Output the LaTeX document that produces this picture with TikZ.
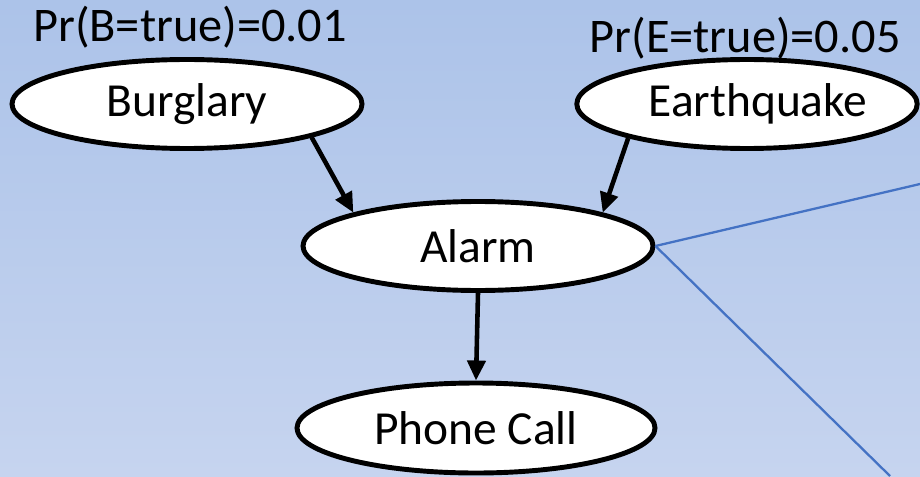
\documentclass[tikz,border=0pt]{standalone}
\usepackage{fontspec}
\setmainfont{Carlito}
\usepackage{tikz}
\usetikzlibrary{positioning,arrows.meta,shapes.geometric}
\definecolor{bgtop}{RGB}{172,195,233}
\definecolor{bgbottom}{RGB}{198,212,239}
\definecolor{linkblue}{RGB}{68,114,196}

\begin{document}
\begin{tikzpicture}[
    bnode/.style={ellipse, draw=black, fill=white, line width=2.8pt, minimum width=7cm, minimum height=1.78cm, inner sep=0pt, font=\fontsize{27}{31}\selectfont},
    arrow/.style={-{Triangle[length=0.4cm, width=0.36cm]}, line width=2.6pt},
    link/.style={draw=linkblue, line width=1.3pt},
    prob/.style={inner sep=0pt, anchor=base, font=\fontsize{27.5}{31}\selectfont}
]
% Background
\shade[top color=bgtop, bottom color=bgbottom] (0,0) rectangle (18.4,9.52);
\useasboundingbox (0,0) rectangle (18.4,9.52);

% Network
\node[bnode] (burglary) at (3.74,7.44) {Burglary\hspace{0.88cm}};
\node[bnode, minimum width=6.8cm] (earthquake) at (14.94,7.44) {\hspace{0.44cm}Earthquake};
\node[bnode] (alarm) at (9.56,4.6) {Alarm};
\node[bnode, minimum width=7.16cm, minimum height=1.8cm] (phone) at (9.52,0.96) {Phone Call};

% Priors
\node[prob, above=0.32cm of burglary.north, anchor=base, xshift=0.06cm] (pb) {Pr(B=true)=0.01};
\node[prob, above=0.1cm of earthquake.north, anchor=base, xshift=-0.04cm] (pe) {Pr(E=true)=0.05};

% Arrows
\draw[arrow] (burglary.-15) -- (alarm.165);
\draw[arrow] (earthquake.196) -- (alarm.15);
\draw[arrow] (alarm.south) -- (phone.north);

% Callout lines
\coordinate (upper) at (18.4,5.84);
\coordinate (lower) at (17.8,0);
\draw[link] (alarm.east) -- (upper);
\draw[link] (alarm.east) -- (lower);
\end{tikzpicture}
\end{document}
